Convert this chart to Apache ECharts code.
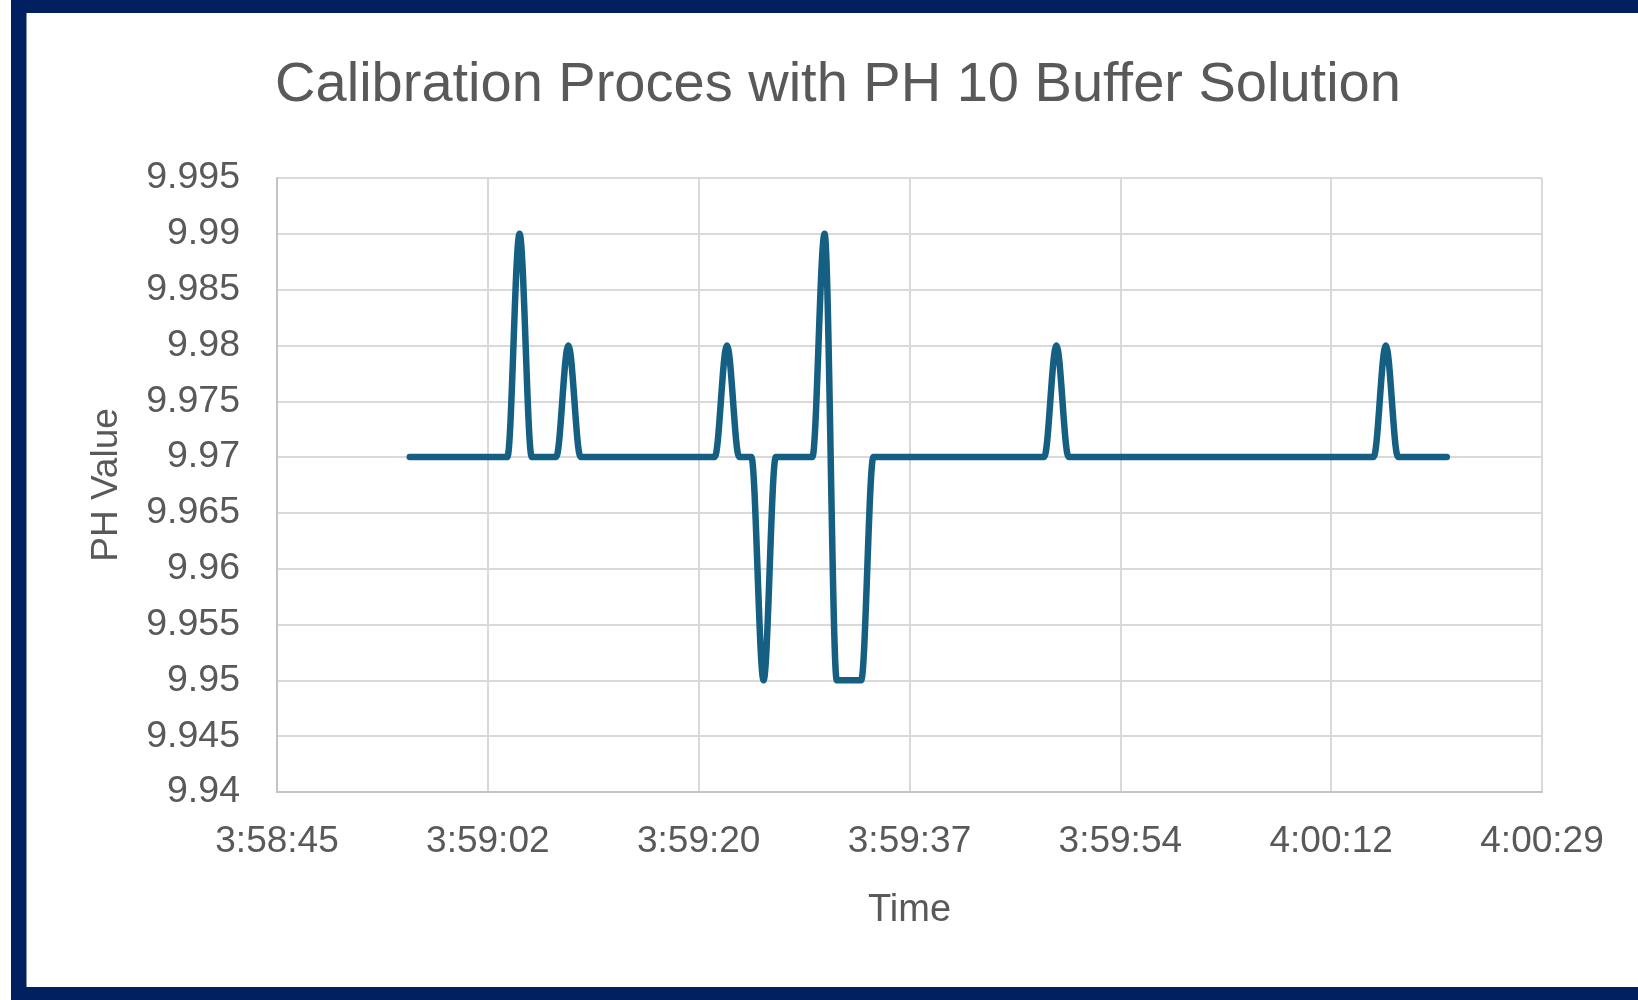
<!DOCTYPE html>
<html>
<head>
<meta charset="utf-8">
<script src="https://cdn.jsdelivr.net/npm/echarts@6/dist/echarts.min.js"></script>
<style>
  html, body { margin: 0; padding: 0; background: #ffffff; }
  #chart { width: 1638px; height: 1000px; }
</style>
</head>
<body>
<div id="chart"></div>
<script>
// ---- Data ----
const titleText = 'Calibration Proces with PH 10 Buffer Solution';
const xAxisTitle = 'Time';
const yAxisTitle = 'PH Value';

// Sample times (h:mm:ss)
const times = [
  '3:58:56','3:58:57','3:58:58','3:58:59',
  '3:59:00','3:59:01','3:59:02','3:59:03','3:59:04','3:59:05','3:59:06','3:59:07','3:59:08','3:59:09',
  '3:59:10','3:59:11','3:59:12','3:59:13','3:59:14','3:59:15','3:59:16','3:59:17','3:59:18','3:59:19',
  '3:59:20','3:59:21','3:59:22','3:59:23','3:59:24','3:59:25','3:59:26','3:59:27','3:59:28','3:59:29',
  '3:59:30','3:59:31','3:59:32','3:59:33','3:59:34','3:59:35','3:59:36','3:59:37','3:59:38','3:59:39',
  '3:59:40','3:59:41','3:59:42','3:59:43','3:59:44','3:59:45','3:59:46','3:59:47','3:59:48','3:59:49',
  '3:59:50','3:59:51','3:59:52','3:59:53','3:59:54','3:59:55','3:59:56','3:59:57','3:59:58','3:59:59',
  '4:00:00','4:00:01','4:00:02','4:00:03','4:00:04','4:00:05','4:00:06','4:00:07','4:00:08','4:00:09',
  '4:00:10','4:00:11','4:00:12','4:00:13','4:00:14','4:00:15','4:00:16','4:00:17','4:00:18','4:00:19',
  '4:00:20','4:00:21'
];

// pH readings
const phValues = [
  9.97, 9.97, 9.97, 9.97,
  9.97, 9.97, 9.97, 9.97, 9.97, 9.99, 9.97, 9.97, 9.97, 9.98,
  9.97, 9.97, 9.97, 9.97, 9.97, 9.97, 9.97, 9.97, 9.97, 9.97,
  9.97, 9.97, 9.98, 9.97, 9.97, 9.95, 9.97, 9.97, 9.97, 9.97,
  9.99, 9.95, 9.95, 9.95, 9.97, 9.97, 9.97, 9.97, 9.97, 9.97,
  9.97, 9.97, 9.97, 9.97, 9.97, 9.97, 9.97, 9.97, 9.97, 9.98,
  9.97, 9.97, 9.97, 9.97, 9.97, 9.97, 9.97, 9.97, 9.97, 9.97,
  9.97, 9.97, 9.97, 9.97, 9.97, 9.97, 9.97, 9.97, 9.97, 9.97,
  9.97, 9.97, 9.97, 9.97, 9.97, 9.97, 9.98, 9.97, 9.97, 9.97,
  9.97, 9.97
];

// Axis range (time of day) and tick step, as in the reference (0.0002 day steps)
const xMinTime = '3:58:45.12';
const xMaxTime = '4:00:28.80';
const xStepSeconds = 17.28;
const yMin = 9.94, yMax = 9.995, yStep = 0.005;

// ---- helpers ----
function toSeconds(str) {
  const p = str.split(':');
  return (+p[0]) * 3600 + (+p[1]) * 60 + parseFloat(p[2]);
}
function fmtTime(v) {
  let s = Math.round(v);
  const h = Math.floor(s / 3600); s -= h * 3600;
  const m = Math.floor(s / 60); s -= m * 60;
  return h + ':' + String(m).padStart(2, '0') + ':' + String(s).padStart(2, '0');
}

const seriesData = times.map((t, i) => [toSeconds(t), phValues[i]]);

const textColor = '#595959';
const gridColor = '#d9d9d9';
const font = 'Liberation Sans, Arial, sans-serif';

const chart = echarts.init(document.getElementById('chart'), null, { renderer: 'canvas' });
chart.setOption({
  animation: false,
  backgroundColor: '#ffffff',
  title: {
    text: titleText,
    left: 833,
    textAlign: 'center',
    top: 53,
    textStyle: { color: textColor, fontSize: 56, fontWeight: 'normal', fontFamily: font }
  },
  graphic: [
    { type: 'rect', shape: { x: 11, y: 0, width: 1627, height: 13 }, style: { fill: '#002060' } },
    { type: 'rect', shape: { x: 11, y: 0, width: 15.5, height: 1000 }, style: { fill: '#002060' } },
    { type: 'rect', shape: { x: 11, y: 987, width: 1627, height: 13 }, style: { fill: '#002060' } }
  ],
  grid: { left: 277, right: 96, top: 178, bottom: 208, containLabel: false },
  xAxis: {
    type: 'value',
    min: toSeconds(xMinTime),
    max: toSeconds(xMaxTime),
    interval: xStepSeconds,
    name: xAxisTitle,
    nameLocation: 'middle',
    nameGap: 100,
    nameTextStyle: { color: textColor, fontSize: 38, fontFamily: font },
    axisLine: { show: true, lineStyle: { color: '#c4c4c4', width: 2 } },
    axisTick: { show: false },
    axisLabel: {
      color: textColor, fontSize: 37, fontFamily: font, margin: 31,
      formatter: fmtTime
    },
    splitLine: { show: true, lineStyle: { color: gridColor, width: 2 } }
  },
  yAxis: {
    type: 'value',
    min: yMin,
    max: yMax,
    interval: yStep,
    name: yAxisTitle,
    nameLocation: 'middle',
    nameGap: 152,
    nameRotate: 90,
    nameTextStyle: { color: textColor, fontSize: 37, fontFamily: font },
    axisLine: { show: true, lineStyle: { color: '#c4c4c4', width: 2 } },
    axisTick: { show: false },
    axisLabel: {
      color: textColor, fontSize: 37.5, fontFamily: font, margin: 37,
      formatter: v => String(+v.toFixed(3))
    },
    splitLine: { show: true, lineStyle: { color: gridColor, width: 2 } }
  },
  series: [{
    type: 'line',
    data: seriesData,
    smooth: 0.35,
    smoothMonotone: 'x',
    showSymbol: false,
    lineStyle: { color: '#156082', width: 6.5, cap: 'round', join: 'round' },
    itemStyle: { color: '#156082' }
  }]
});
</script>
</body>
</html>
